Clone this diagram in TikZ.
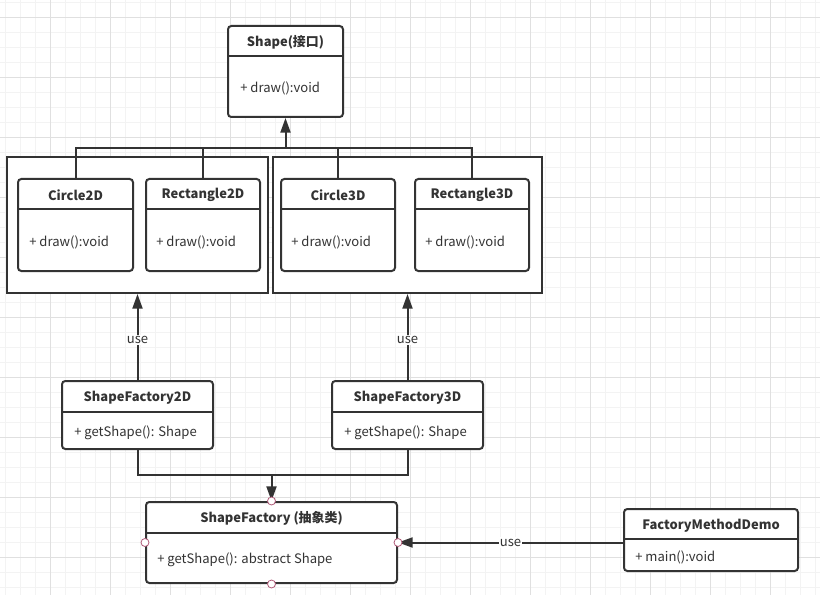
\documentclass[tikz,border=0pt]{standalone}
\usepackage{fontspec}
\setmainfont{Noto Sans CJK SC}
\usetikzlibrary{arrows.meta}
\definecolor{ink}{HTML}{333333}
\definecolor{gmin}{HTML}{F3F3F3}
\definecolor{gmaj}{HTML}{E0E0E0}
\definecolor{port}{HTML}{B05A78}
\tikzset{
  line/.style={draw=ink, line width=1.5pt},
  clsbox/.style={draw=ink, line width=1.5pt, rounded corners=2.5pt, fill=white, inner sep=0pt},
  grpbox/.style={draw=ink, line width=1.5pt, fill=white, inner sep=0pt},
  title/.style={font=\fontsize{9.7pt}{11pt}\selectfont\bfseries, text=ink, inner sep=0pt, yshift=-1pt},
  attr/.style={font=\fontsize{9.8pt}{11pt}\selectfont, text=ink, inner sep=0pt, yshift=-1.6pt},
  arr/.style={draw=ink, line width=1.5pt, -{Triangle[length=11pt,width=7.5pt]}},
  lbl/.style={font=\fontsize{9.8pt}{11pt}\selectfont, text=ink, fill=white, inner sep=1pt},
  portc/.style={circle, draw=port, fill=white, line width=0.6pt, minimum size=6pt, inner sep=0pt}
}
\newcommand\umlcls[9]{%
  \pgfmathsetmacro\cx{(#2+#4)/2}\pgfmathsetmacro\cy{(#3+#5)/2}%
  \pgfmathsetmacro\cw{(#4-#2)*0.75}\pgfmathsetmacro\ch{(#5-#3)*0.75}%
  \pgfmathsetmacro\ty{(#3+#6)/2}\pgfmathsetmacro\ay{(#6+#5)/2}%
  \node[clsbox, minimum width=\cw pt, minimum height=\ch pt] (#1) at (\cx,\cy) {};
  \draw[line] (#1.west |- 0,#6) -- (#1.east |- 0,#6);
  \node[title] (#1-t) at (\cx,\ty) {#7};
  \node[attr, anchor=west] (#1-a) at (#8,\ay) {#9};
}
\newcommand\grp[5]{%
  \pgfmathsetmacro\cx{(#2+#4)/2}\pgfmathsetmacro\cy{(#3+#5)/2}%
  \pgfmathsetmacro\cw{(#4-#2)*0.75}\pgfmathsetmacro\ch{(#5-#3)*0.75}%
  \node[grpbox, minimum width=\cw pt, minimum height=\ch pt] (#1) at (\cx,\cy) {};
}
\begin{document}
\begin{tikzpicture}[x=0.75pt,y=-0.75pt]
\useasboundingbox (0,0) rectangle (820,595);
\fill[white] (0,0) rectangle (820,595);
% grid
\foreach \gx in {5,20,...,815} {\draw[gmin, line width=0.6pt] (\gx,0) -- (\gx,595);}
\foreach \gy in {2,17,...,592} {\draw[gmin, line width=0.6pt] (0,\gy) -- (820,\gy);}
\foreach \gx in {50,110,...,770} {\draw[gmaj, line width=0.7pt] (\gx,0) -- (\gx,595);}
\foreach \gy in {17,77,...,557} {\draw[gmaj, line width=0.7pt] (0,\gy) -- (820,\gy);}

% classes
\umlcls{Shape}{228}{26}{343}{117}{56}{Shape(接口)}{240}{+ draw():void}
\grp{g2d}{7}{157}{268}{293}
\grp{g3d}{273}{157}{542}{293}
\umlcls{C2D}{18}{179}{133}{271}{209}{Circle2D}{29}{+ draw():void}
\umlcls{R2D}{146}{179}{260}{271}{209}{Rectangle2D}{156}{+ draw():void}
\umlcls{C3D}{281}{179}{395}{271}{209}{Circle3D}{291}{+ draw():void}
\umlcls{R3D}{415}{179}{529}{271}{209}{Rectangle3D}{425}{+ draw():void}
\umlcls{SF2D}{62}{381}{213}{449}{412}{ShapeFactory2D}{74}{+ getShape(): Shape}
\umlcls{SF3D}{332}{381}{483}{449}{412}{ShapeFactory3D}{344}{+ getShape(): Shape}
\umlcls{SF}{146}{502}{397}{583}{533}{ShapeFactory (抽象类)}{157}{+ getShape(): abstract Shape}
\umlcls{FMD}{624}{509}{798}{571}{539}{FactoryMethodDemo}{635}{+ main():void}

% inheritance to Shape
\coordinate (bus) at (0,148);
\draw[line] (C2D.north) -- (C2D.north |- bus) -- (R3D.north |- bus) -- (R3D.north);
\draw[line] (R2D.north) -- (R2D.north |- bus);
\draw[line] (C3D.north) -- (C3D.north |- bus);
\draw[arr] (Shape.south |- bus) -- (Shape.south);

% use arrows
\draw[arr] (SF2D.north) -- (g2d.south) node[lbl, pos=0.47] {use};
\draw[arr] (SF3D.north) -- (g3d.south) node[lbl, pos=0.47] {use};

% factories to ShapeFactory
\coordinate (bus2) at (0,475);
\draw[line] (SF2D.south) -- (SF2D.south |- bus2) -- (SF3D.south |- bus2) -- (SF3D.south);
\draw[arr] (SF.north |- bus2) -- (SF.north);

% FactoryMethodDemo uses ShapeFactory
\draw[arr] (FMD.west |- SF.east) -- (SF.east) node[lbl, midway] {use};

% ports
\node[portc] (p1) at (SF.north) {};
\node[portc] (p2) at (SF.south) {};
\node[portc] (p3) at (SF.west) {};
\node[portc] (p4) at (SF.east) {};
\end{tikzpicture}
\end{document}
